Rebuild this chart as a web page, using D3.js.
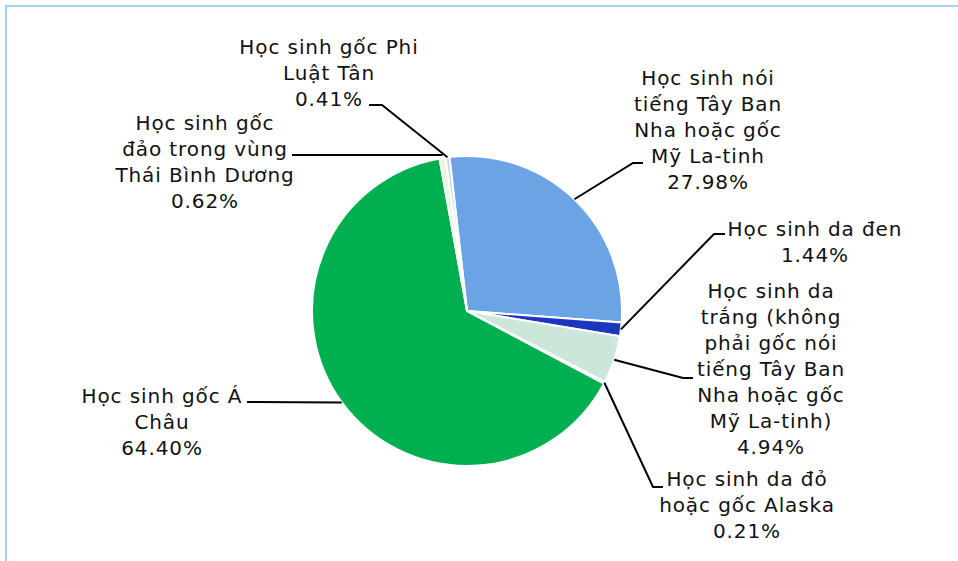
<!DOCTYPE html>
<html>
<head>
<meta charset="utf-8">
<script src="https://cdn.jsdelivr.net/npm/d3@7"></script>
<style>
  body { margin: 0; background: #fff; }
  svg { display: block; }
</style>
</head>
<body>
<svg width="958" height="561"></svg>
<script>
// data (clockwise from the top)
var categories = [
    "Học sinh nói tiếng Tây Ban Nha hoặc gốc Mỹ La-tinh",
    "Học sinh da đen",
    "Học sinh da trắng (không phải gốc nói tiếng Tây Ban Nha hoặc gốc Mỹ La-tinh)",
    "Học sinh da đỏ hoặc gốc Alaska",
    "Học sinh gốc Á Châu",
    "Học sinh gốc đảo trong vùng Thái Bình Dương",
    "Học sinh gốc Phi Luật Tân"
];
var percents = [27.98, 1.44, 4.94, 0.21, 64.40, 0.62, 0.41];
var labelLines = [
    ["Học sinh nói", "tiếng Tây Ban", "Nha hoặc gốc", "Mỹ La-tinh"],
    ["Học sinh da đen"],
    ["Học sinh da", "trắng (không", "phải gốc nói", "tiếng Tây Ban", "Nha hoặc gốc", "Mỹ La-tinh)"],
    ["Học sinh da đỏ", "hoặc gốc Alaska"],
    ["Học sinh gốc Á", "Châu"],
    ["Học sinh gốc", "đảo trong vùng", "Thái Bình Dương"],
    ["Học sinh gốc Phi", "Luật Tân"]
];
var colors = ["#6ca3e5", "#1c36bd", "#cce6da", "#dbe8f5", "#00b050", "#eef4d9", "#c6d8f0"];

// label placement: text centre x, first baseline, elbow and line end
var labelPos = [
    {x: 708, y: 85,  elbow: [633, 163], end: [643, 163]},
    {x: 815, y: 236, elbow: [714, 234], end: [725, 234]},
    {x: 771, y: 298, elbow: [683, 378], end: [693, 378]},
    {x: 747, y: 486, elbow: [653, 487], end: [663, 487]},
    {x: 162, y: 403, elbow: [300, 402], end: [247, 402]},
    {x: 205, y: 130, elbow: [380, 155], end: [292, 155]},
    {x: 329, y: 54,  elbow: [382, 105], end: [369, 105]}
];

var svg = d3.select("svg");
var cx = 467, cy = 311, radius = 155;
var startAngle = -6.5 * Math.PI / 180;

svg.append("rect")
    .attr("x", 6).attr("y", 6)
    .attr("width", 1000).attr("height", 1000)
    .attr("fill", "#fff")
    .attr("stroke", "#a6d2f0")
    .attr("stroke-width", 2);

var pie = d3.pie()
    .value(function (d) { return d; })
    .sort(null)
    .startAngle(startAngle)
    .endAngle(startAngle + 2 * Math.PI);

var arcs = pie(percents);
var arc = d3.arc().innerRadius(0).outerRadius(radius);

var plot = svg.append("g")
    .attr("transform", "translate(" + cx + "," + cy + ")");

plot.selectAll("path.slice")
    .data(arcs)
    .enter()
    .append("path")
    .attr("class", "slice")
    .attr("d", arc)
    .attr("fill", function (d, i) { return colors[i]; })
    .attr("stroke", "#fff")
    .attr("stroke-width", 2)
    .attr("stroke-linejoin", "round");

// leader lines from the edge of each slice
var leaders = svg.append("g");
arcs.forEach(function (d, i) {
    var mid = (d.startAngle + d.endAngle) / 2;
    var px = cx + radius * Math.sin(mid),
        py = cy - radius * Math.cos(mid);
    var p = labelPos[i];
    var pts = [[px, py], p.elbow, p.end];
    if (i === 4) {
        pts = [[px, py], p.end];
    }
    if (i === 5) {
        pts = [[px, p.end[1]], p.end];
    }
    leaders.append("path")
        .attr("d", d3.line()(pts))
        .attr("fill", "none")
        .attr("stroke", "#000")
        .attr("stroke-width", 2);
});

var labels = svg.append("g")
    .attr("font-family", "'DejaVu Sans', Verdana, sans-serif")
    .attr("font-size", 20)
    .attr("letter-spacing", "0.9px")
    .attr("fill", "#111")
    .attr("text-anchor", "middle");

labelLines.forEach(function (lines, i) {
    var all = lines.concat([d3.format(".2f")(percents[i]) + "%"]);
    var t = labels.append("text").attr("class", "label");
    all.forEach(function (s, k) {
        t.append("tspan")
            .attr("x", labelPos[i].x)
            .attr("y", labelPos[i].y + k * 26)
            .text(s);
    });
});
</script>
</body>
</html>
